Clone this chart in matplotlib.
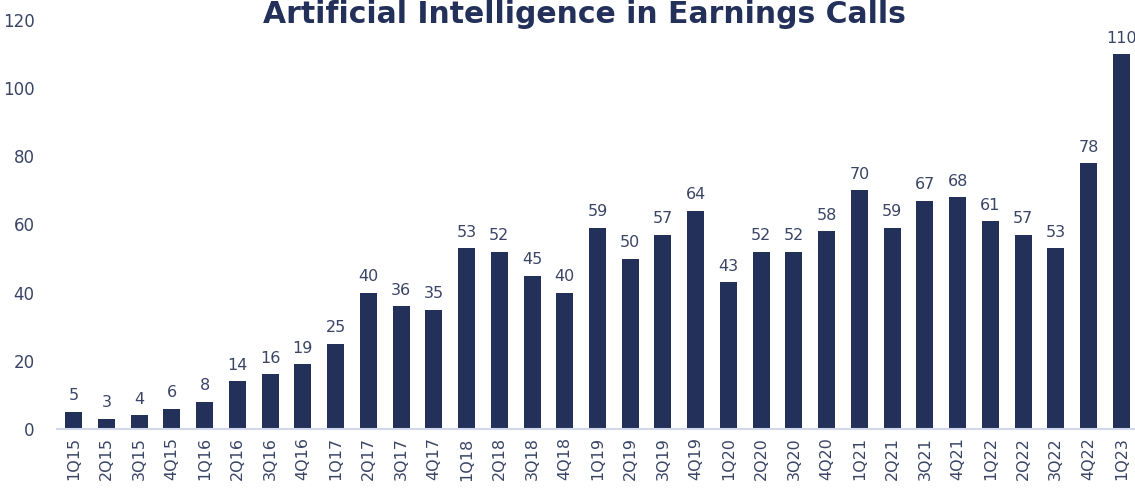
import matplotlib
matplotlib.use("Agg")
import matplotlib.pyplot as plt

plt.rcParams['font.family'] = ['DejaVu Sans']

# data
quarters = ["1Q15", "2Q15", "3Q15", "4Q15", "1Q16", "2Q16", "3Q16", "4Q16",
            "1Q17", "2Q17", "3Q17", "4Q17", "1Q18", "2Q18", "3Q18", "4Q18",
            "1Q19", "2Q19", "3Q19", "4Q19", "1Q20", "2Q20", "3Q20", "4Q20",
            "1Q21", "2Q21", "3Q21", "4Q21", "1Q22", "2Q22", "3Q22", "4Q22",
            "1Q23"]
mentions = [5, 3, 4, 6, 8, 14, 16, 19, 25, 40, 36, 35, 53, 52, 45, 40,
            59, 50, 57, 64, 43, 52, 52, 58, 70, 59, 67, 68, 61, 57, 53, 78,
            110]
y_ticks = [0, 20, 40, 60, 80, 100, 120]

navy = "#22305a"
text_col = "#3a4566"

fig = plt.figure(figsize=(11.35, 4.88), dpi=100)
ax = fig.add_axes([0.050, 0.121, 0.95, 0.838])

x = range(len(quarters))
ax.bar(x, mentions, width=0.52, color=navy)

for xi, v in zip(x, mentions):
    ax.text(xi, v + 2.5, str(v), ha='center', va='bottom',
            fontsize=11.5, color=text_col)

ax.set_xlim(-0.52, len(quarters) - 0.58)
ax.set_ylim(0, 120)
ax.set_yticks(y_ticks)
ax.set_xticks(list(x))
ax.set_xticklabels(quarters, rotation=90, fontsize=11.5, color=text_col)
ax.tick_params(axis='y', labelsize=12, labelcolor=text_col, length=0, pad=16)
ax.tick_params(axis='x', length=0, pad=6)

for side in ['top', 'right', 'left']:
    ax.spines[side].set_visible(False)
ax.spines['bottom'].set_color("#d3d7ea")
ax.spines['bottom'].set_linewidth(1.5)

fig.text(0.515, 0.97, "Artificial Intelligence in Earnings Calls",
         ha='center', va='center', fontsize=21.5, fontweight='bold', color=navy)

fig.savefig("out.png", dpi=100)
